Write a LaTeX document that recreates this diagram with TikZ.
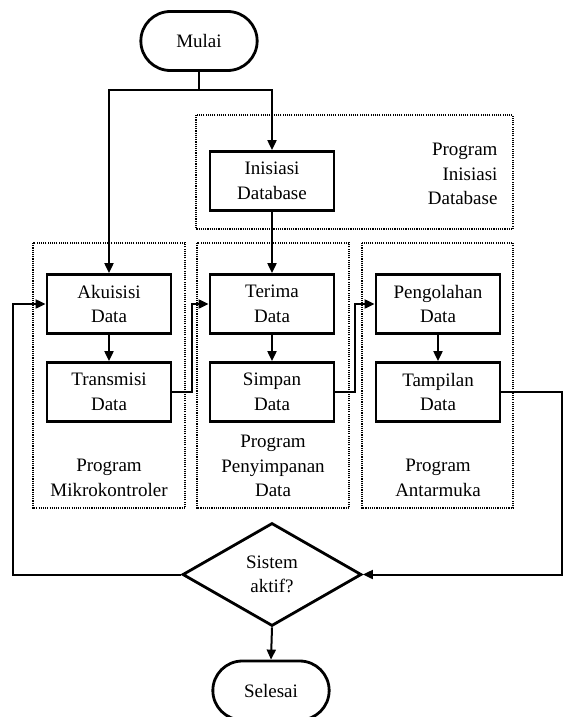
\documentclass[tikz,border=0pt]{standalone}
\usepackage{fontspec}
\setmainfont{Liberation Serif}
\usetikzlibrary{arrows.meta,shapes.geometric,shapes.misc}
\begin{document}
\begin{tikzpicture}[x=1pt,y=-1pt,>={Triangle[length=10pt,width=9pt]},
  every node/.style={font=\fontsize{19}{24.5}\selectfont,align=center},
  proc/.style={draw,line width=2.8pt,minimum width=124pt,minimum height=59pt,inner sep=2pt},
  term/.style={draw,line width=2.8pt,rounded rectangle,minimum width=123pt,minimum height=59pt},
  decide/.style={draw,line width=2.8pt,diamond,minimum width=179pt,minimum height=103pt,inner sep=0pt},
  group/.style={draw,line width=1.1pt,dash pattern=on 1.1pt off 1.1pt},
  flow/.style={->,line width=2pt}]
  \useasboundingbox (0,0) rectangle (563,717);
  % program groups
  \draw[group] (196,115) rectangle (513,229);
  \draw[group] (33,243) rectangle (185,508);
  \draw[group] (197,243) rectangle (349,508);
  \draw[group] (362,243) rectangle (513,508);
  \node[anchor=east,align=right] (lblinit) at (501,174) {Program\\Inisiasi\\Database};
  \node (lblmcu) at (109,478) {Program\\Mikrokontroler};
  \node (lblstore) at (273,466) {Program\\Penyimpanan\\Data};
  \node (lblui) at (438,478) {Program\\Antarmuka};
  % flow nodes
  \node[term] (mulai) at (199,41) {Mulai};
  \node[proc] (inisiasi) at (272,181) {Inisiasi\\Database};
  \node[proc] (akuisisi) at (109,304) {Akuisisi\\Data};
  \node[proc] (transmisi) at (109,392) {Transmisi\\Data};
  \node[proc] (terima) at (272,304) {Terima\\Data};
  \node[proc] (simpan) at (272,392) {Simpan\\Data};
  \node[proc] (olah) at (438,304) {Pengolahan\\Data};
  \node[proc] (tampil) at (438,392) {Tampilan\\Data};
  \node[decide] (aktif) at (272,574.5) {Sistem\\aktif?};
  \node[term] (selesai) at (271,690.5) {Selesai};
  % connectors
  \coordinate (split) at (199,90);
  \coordinate (rr) at (562,0);
  \coordinate (ll) at (13,0);
  \draw[line width=2pt] (mulai.south) -- (split);
  \draw[flow] (split) -| (akuisisi.north);
  \draw[flow] (split) -| (inisiasi.north);
  \draw[flow] (inisiasi.south) -- (terima.north);
  \draw[flow] (akuisisi.south) -- (transmisi.north);
  \draw[flow] (terima.south) -- (simpan.north);
  \draw[flow] (olah.south) -- (tampil.north);
  \draw[flow] (transmisi.east) -- ++(20,0) |- (terima.west);
  \draw[flow] (simpan.east) -- ++(20,0) |- (olah.west);
  \draw[flow] (tampil.east) -- (tampil.east -| rr) |- (aktif.east);
  \draw[flow] (aktif.west) -- (aktif.west -| ll) |- (akuisisi.west);
  \draw[flow] (aktif.south) -- (selesai.north);
\end{tikzpicture}
\end{document}
